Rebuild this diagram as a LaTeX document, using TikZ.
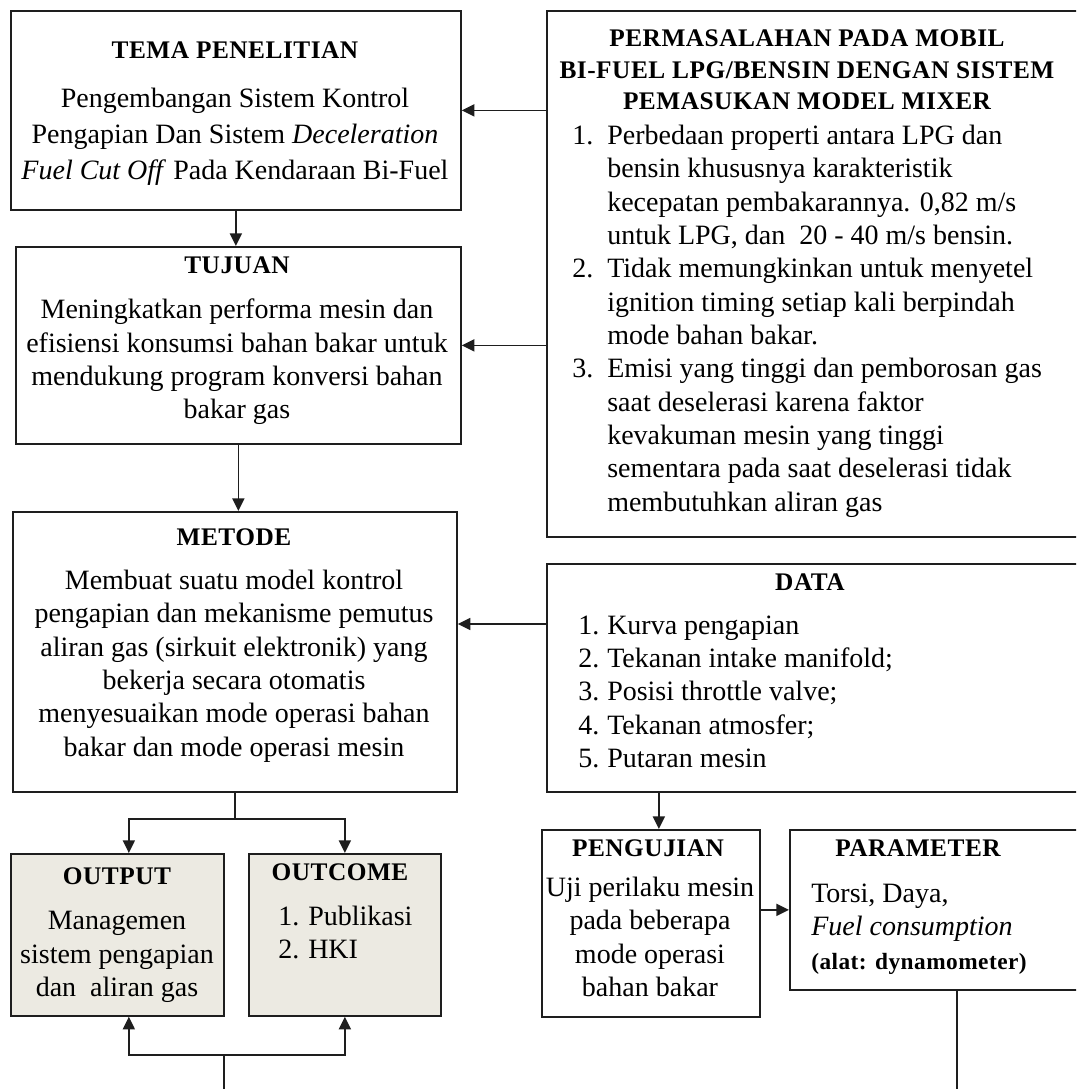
\documentclass[tikz,border=0pt]{standalone}
\usepackage{fontspec}
\setmainfont{Liberation Serif}
\usetikzlibrary{arrows.meta,calc}
\definecolor{boxfill}{RGB}{236,234,226}
\definecolor{ink}{RGB}{30,30,30}
\begin{document}
\begin{tikzpicture}[x=0.75pt,y=-0.75pt,
  box/.style={draw=ink, line width=1.3pt, anchor=north west, inner sep=0pt},
  head/.style={font=\fontsize{19}{23.5}\selectfont\bfseries\addfontfeature{LetterSpace=2}, align=center, inner sep=0pt},
  body/.style={font=\fontsize{21}{25}\selectfont, align=center, inner sep=0pt},
  lst/.style={font=\fontsize{21}{25}\selectfont, inner sep=0pt, anchor=west},
  arr/.style={draw=ink, line width=1.3pt, -{Triangle[length=9.5pt,width=9pt]}},
  ln/.style={draw=ink, line width=1.3pt}]
\useasboundingbox (0,0) rectangle (1076,1089);
\clip (0,0) rectangle (1076,1089);
\fill[white] (0,0) rectangle (1076,1089);

% boxes
\node[box, minimum width=337.5pt, minimum height=149.25pt] (tema) at (10,10) {};
\node[box, minimum width=333.75pt, minimum height=147.75pt] (tujuan) at (15,246) {};
\node[box, minimum width=408pt, minimum height=394.5pt] (masalah) at (546,10) {};
\node[box, minimum width=333pt, minimum height=210pt] (metode) at (12,511) {};
\node[box, minimum width=408pt, minimum height=171pt] (data) at (546,563) {};
\node[box, fill=boxfill, minimum width=159.75pt, minimum height=121.5pt] (output) at (10,853) {};
\node[box, fill=boxfill, minimum width=144pt, minimum height=121.5pt] (outcome) at (248,853) {};
\node[box, minimum width=163.5pt, minimum height=140.25pt] (uji) at (541,829) {};
\node[box, minimum width=225.75pt, minimum height=120pt] (param) at (789,829) {};

% texts
\node[head] (temaH) at (235,50) {TEMA PENELITIAN};
\node[body, font=\fontsize{21}{27}\selectfont] (temaT) at (235,137) {Pengembangan Sistem Kontrol\\Pengapian Dan Sistem \textit{Deceleration}\\\textit{Fuel Cut Off} Pada Kendaraan Bi-Fuel};

\node[head] (tujuanH) at (237,265) {TUJUAN};
\node[body] (tujuanT) at (237,362) {Meningkatkan performa mesin dan\\efisiensi konsumsi bahan bakar untuk\\mendukung program konversi bahan\\bakar gas};

\node[head] (masalahH) at (807,70) {PERMASALAHAN PADA MOBIL\\BI-FUEL LPG/BENSIN DENGAN SISTEM\\PEMASUKAN MODEL MIXER};
\node[lst] (masalahT) at (572,321) {\begin{tabular}{@{}l@{}l@{}}
\makebox[26.25pt][l]{1.}&Perbedaan properti antara LPG dan\\
&bensin khususnya karakteristik\\
&kecepatan pembakarannya. 0,82 m/s\\
&untuk LPG, dan\ \ 20 - 40 m/s bensin.\\
\makebox[26.25pt][l]{2.}&Tidak memungkinkan untuk menyetel\\
&ignition timing setiap kali berpindah\\
&mode bahan bakar.\\
\makebox[26.25pt][l]{3.}&Emisi yang tinggi dan pemborosan gas\\
&saat deselerasi karena faktor\\
&kevakuman mesin yang tinggi\\
&sementara pada saat deselerasi tidak\\
&membutuhkan aliran gas
\end{tabular}};

\node[head] (metodeH) at (234,537) {METODE};
\node[body] (metodeT) at (234,666) {Membuat suatu model kontrol\\pengapian dan mekanisme pemutus\\aliran gas (sirkuit elektronik) yang\\bekerja secara otomatis\\menyesuaikan mode operasi bahan\\bakar dan mode operasi mesin};

\node[head] (dataH) at (810,582) {DATA};
\node[lst] (dataT) at (578,694) {\begin{tabular}{@{}l@{}l@{}}
\makebox[21.75pt][l]{1.}&Kurva pengapian\\
\makebox[21.75pt][l]{2.}&Tekanan intake manifold;\\
\makebox[21.75pt][l]{3.}&Posisi throttle valve;\\
\makebox[21.75pt][l]{4.}&Tekanan atmosfer;\\
\makebox[21.75pt][l]{5.}&Putaran mesin
\end{tabular}};

\node[head] (outputH) at (117,876) {OUTPUT};
\node[body] (outputT) at (117,957) {Managemen\\sistem pengapian\\dan\ \ aliran gas};

\node[head] (outcomeH) at (340,872) {OUTCOME};
\node[lst] (outcomeT) at (278,935) {\begin{tabular}{@{}l@{}l@{}}
\makebox[22.5pt][l]{1.}&Publikasi\\
\makebox[22.5pt][l]{2.}&HKI
\end{tabular}};

\node[head] (ujiH) at (648,848) {PENGUJIAN};
\node[body] (ujiT) at (650,937) {Uji perilaku mesin\\pada beberapa\\mode operasi\\bahan bakar};

\node[head] (paramH) at (918,848) {PARAMETER};
\node[lst] (paramT) at (811,929) {\begin{tabular}{@{}l@{}}
Torsi, Daya,\\
\textit{Fuel consumption}\\
{\bfseries\fontsize{17.5}{25}\selectfont\addfontfeature{LetterSpace=2}(alat: dynamometer)}
\end{tabular}};

% connectors
\draw[arr] (masalah.west |- tema.east) -- (tema.east);
\draw[arr] (masalah.west |- tujuan.east) -- (tujuan.east);
\draw[arr] (tema.south) -- (tema.south |- tujuan.north);
\draw[arr] (tujuan.south) -- (tujuan.south |- metode.north);
\coordinate (d1) at ([yshift=-45.75pt]data.north west);
\draw[arr] (d1) -- (d1 -| metode.east);

\coordinate (j1) at ([yshift=-19.5pt]metode.south);
\coordinate (oa) at ([xshift=8.6pt]output.north);
\coordinate (ob) at (outcome.north);
\draw[ln] (metode.south) -- (j1);
\draw[arr] (j1) -| (oa);
\draw[arr] (j1) -| (ob);

\coordinate (j2) at (224,1055);
\coordinate (b1) at (224,1100);
\coordinate (oas) at ([xshift=8.6pt]output.south);
\draw[ln] (b1) -- (j2);
\draw[arr] (j2) -| (oas);
\draw[arr] (j2) -| (outcome.south);

\coordinate (p1) at ([xshift=6pt]uji.north);
\draw[arr] (p1 |- data.south) -- (p1);
\draw[arr] (uji.east |- param.west) -- (param.west);
\coordinate (b2) at (957,1100);
\draw[ln] (b2 |- param.south) -- (b2);
\end{tikzpicture}
\end{document}
